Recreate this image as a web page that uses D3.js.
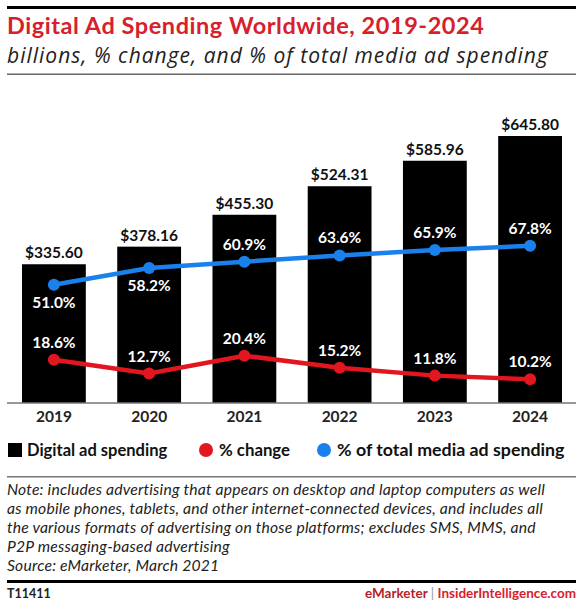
<!DOCTYPE html>
<html>
<head>
<meta charset="utf-8">
<script src="https://cdn.jsdelivr.net/npm/d3@7"></script>
<style>
  body { margin: 0; background: #fff; }
  text { font-family: Lato, "Noto Sans", sans-serif; }
  text.ital { font-family: "Open Sans", Lato, sans-serif; font-style: italic; }
  text.note { font-family: Lato, sans-serif; font-style: italic; }
</style>
</head>
<body>
<div id="chart"></div>
<script>
var years = ['2019', '2020', '2021', '2022', '2023', '2024'];
var spending = [335.60, 378.16, 455.30, 524.31, 585.96, 645.80];
var pctChange = [18.6, 12.7, 20.4, 15.2, 11.8, 10.2];
var pctTotal = [51.0, 58.2, 60.9, 63.6, 65.9, 67.8];
var legendNames = ['Digital ad spending', '% change', '% of total media ad spending'];
var noteLines = [
  'Note: includes advertising that appears on desktop and laptop computers as well',
  'as mobile phones, tablets, and other internet-connected devices, and includes all',
  'the various formats of advertising on those platforms; excludes SMS, MMS, and',
  'P2P messaging-based advertising',
  'Source: eMarketer, March 2021'
];

var chart_width = 584;
var chart_height = 600;
var red = '#d7202c';
var blue = '#1a80ec';

var svg = d3.select('#chart')
  .append('svg')
  .attr('width', chart_width)
  .attr('height', chart_height);

svg.append('rect')
  .attr('width', chart_width)
  .attr('height', chart_height)
  .attr('fill', '#fff');

// Header
svg.append('rect')
  .attr('x', 7).attr('y', 6)
  .attr('width', 569).attr('height', 3)
  .attr('fill', '#000');

svg.append('text')
  .text('Digital Ad Spending Worldwide, 2019-2024')
  .attr('x', 7).attr('y', 34)
  .attr('font-size', 23.5)
  .attr('font-weight', 'bold')
  .style('letter-spacing', '0.55px')
  .attr('fill', red);

svg.append('text')
  .attr('class', 'ital')
  .text('billions, % change, and % of total media ad spending')
  .attr('x', 7).attr('y', 63)
  .attr('font-size', 21)
  .style('letter-spacing', '1px')
  .attr('fill', '#222');

svg.append('rect')
  .attr('x', 7).attr('y', 73.5)
  .attr('width', 569).attr('height', 1.5)
  .attr('fill', '#666');

// Scales
var xScale = d3.scaleBand()
  .domain(years)
  .range([22, 562])
  .paddingInner(0.33)
  .paddingOuter(0);

var yScale = d3.scaleLinear()
  .domain([0, 700])
  .range([403, 113.6]);

var pScale = d3.scaleLinear()
  .domain([0, 100])
  .range([403, 171]);

var cx = function (d, i) {
  return xScale(years[i]) + xScale.bandwidth() / 2;
};

// Bars
svg.selectAll('rect.bar')
  .data(spending)
  .enter()
  .append('rect')
  .attr('class', 'bar')
  .attr('x', function (d, i) { return xScale(years[i]); })
  .attr('y', function (d) { return yScale(d); })
  .attr('width', xScale.bandwidth())
  .attr('height', function (d) { return yScale(0) - yScale(d); })
  .attr('fill', '#000');

svg.selectAll('text.barlabel')
  .data(spending)
  .enter()
  .append('text')
  .attr('class', 'barlabel')
  .text(function (d) { return '$' + d.toFixed(2); })
  .attr('x', cx)
  .attr('y', function (d) { return yScale(d) - 6; })
  .attr('font-size', 15.5)
  .attr('font-weight', 'bold')
  .attr('fill', '#111')
  .attr('text-anchor', 'middle');

// X axis
var xAxis = d3.axisBottom(xScale).tickSize(0).tickPadding(8);
var gx = svg.append('g')
  .attr('transform', 'translate(0,' + yScale(0) + ')')
  .call(xAxis);
gx.select('.domain')
  .attr('d', 'M7,0H576')
  .attr('stroke', '#777')
  .attr('stroke-width', 1.5);
gx.selectAll('text')
  .attr('font-size', 15.5)
  .attr('font-weight', 'bold')
  .attr('fill', '#222');

// Lines
var line = d3.line()
  .x(function (d, i) { return cx(d, i); })
  .y(function (d) { return pScale(d); });

function drawSeries(values, color, labelPos) {
  svg.append('path')
    .datum(values)
    .attr('d', line)
    .attr('fill', 'none')
    .attr('stroke', color)
    .attr('stroke-width', 4.5);

  svg.selectAll(null)
    .data(values)
    .enter()
    .append('circle')
    .attr('cx', cx)
    .attr('cy', function (d) { return pScale(d); })
    .attr('r', 6)
    .attr('fill', color);

  svg.selectAll(null)
    .data(values)
    .enter()
    .append('text')
    .text(function (d) { return d.toFixed(1) + '%'; })
    .attr('x', cx)
    .attr('y', function (d, i) {
      return labelPos[i] === 'below' ? pScale(d) + 23 : pScale(d) - 12;
    })
    .attr('font-size', 15.5)
    .attr('font-weight', 'bold')
    .attr('fill', '#fff')
    .attr('text-anchor', 'middle');
}

drawSeries(pctChange, '#e2161f', ['above', 'above', 'above', 'above', 'above', 'above']);
drawSeries(pctTotal, blue, ['below', 'below', 'above', 'above', 'above', 'above']);

// Legend
var legendX = [8, 199, 317];
var legendColors = ['#000', '#e2161f', blue];
var legendSizes = [16.5, 16.8, 17.8];
var legend = svg.selectAll('g.legend')
  .data(legendNames)
  .enter()
  .append('g')
  .attr('class', 'legend')
  .attr('transform', function (d, i) { return 'translate(' + legendX[i] + ',450)'; });

legend.each(function (d, i) {
  var g = d3.select(this);
  if (i === 0) {
    g.append('rect')
      .attr('x', 0).attr('y', -7)
      .attr('width', 14).attr('height', 14)
      .attr('fill', '#000');
  } else {
    g.append('circle')
      .attr('cx', 7).attr('cy', 0)
      .attr('r', 7)
      .attr('fill', legendColors[i]);
  }
  g.append('text')
    .text(d)
    .attr('x', i === 0 ? 19 : 20)
    .attr('y', 6)
    .attr('font-size', legendSizes[i])
    .attr('font-weight', 'bold')
    .attr('fill', '#111');
});

// Footer
svg.append('rect')
  .attr('x', 7).attr('y', 476)
  .attr('width', 569).attr('height', 1.5)
  .attr('fill', '#777');

svg.selectAll('text.note')
  .data(noteLines)
  .enter()
  .append('text')
  .attr('class', 'note')
  .text(function (d) { return d; })
  .attr('x', 7)
  .attr('y', function (d, i) { return 495 + i * 19; })
  .attr('font-size', 15.7)
  .style('letter-spacing', '0.2px')
  .attr('fill', '#222');

svg.append('rect')
  .attr('x', 7).attr('y', 580)
  .attr('width', 569).attr('height', 3)
  .attr('fill', '#000');

svg.append('text')
  .text('T11411')
  .attr('x', 7).attr('y', 598)
  .attr('font-size', 12.5)
  .attr('font-weight', 'bold')
  .attr('fill', '#222');

var brand = svg.append('text')
  .attr('x', 576).attr('y', 598)
  .attr('font-size', 13.5)
  .attr('font-weight', 'bold')
  .attr('text-anchor', 'end');
brand.append('tspan').text('eMarketer ').attr('fill', '#b81c28');
brand.append('tspan').text('| ').attr('fill', '#999').attr('font-weight', 'normal');
brand.append('tspan').text('InsiderIntelligence.com').attr('fill', red);
</script>
</body>
</html>
